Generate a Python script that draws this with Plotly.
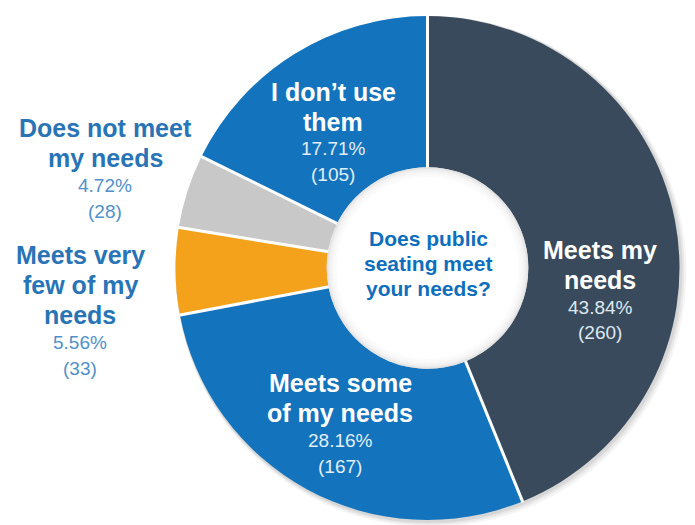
import math
import plotly.graph_objects as go

# Survey responses: "Does public seating meet your needs?"
categories = [
    "Meets my<br>needs",
    "Meets some<br>of my needs",
    "Meets very<br>few of my<br>needs",
    "Does not meet<br>my needs",
    "I don\u2019t use<br>them",
]
counts = [260, 167, 33, 28, 105]
colors = ["#384a5c", "#1373bd", "#f4a21c", "#c8c8c8", "#1373bd"]
center_title = ["Does public", "seating meet", "your needs?"]

W, H = 695, 525
total = sum(counts)
percents = [100.0 * c / total for c in counts]

fig = go.Figure()

cx, cy, r = 427.5, 268, 252
HOLE = 0.40
hole_r = HOLE * r


def circle(rad, dx=0, dy=0, **kw):
    fig.add_shape(
        type="circle", xref="paper", yref="paper",
        x0=(cx + dx - rad) / W, x1=(cx + dx + rad) / W,
        y0=1 - (cy + dy + rad) / H, y1=1 - (cy + dy - rad) / H,
        **kw,
    )


# Soft drop shadow behind the ring
for k, a in [(7, 0.04), (5, 0.05), (3, 0.07)]:
    circle(r + k / 2, dx=k / 2, dy=k / 2, layer="below",
           fillcolor=f"rgba(0,0,0,{a})", line=dict(width=0))

fig.add_trace(go.Pie(
    labels=[c.replace("<br>", " ") for c in categories],
    values=counts,
    sort=False,
    direction="clockwise",
    rotation=0,
    hole=HOLE,
    marker=dict(colors=colors, line=dict(width=0)),
    textinfo="none",
    hoverinfo="skip",
    showlegend=False,
    domain=dict(x=[(cx - r) / W, (cx + r) / W], y=[1 - (cy + r) / H, 1 - (cy - r) / H]),
))

# White separators between slices, at the cumulative share of each answer
cum = 0
for c in counts:
    th = 2 * math.pi * cum / total
    s, co = math.sin(th), math.cos(th)
    fig.add_shape(
        type="line", xref="paper", yref="paper", layer="above",
        x0=(cx + (hole_r - 2) * s) / W, y0=1 - (cy - (hole_r - 2) * co) / H,
        x1=(cx + (r + 1) * s) / W, y1=1 - (cy - (r + 1) * co) / H,
        line=dict(color="white", width=3),
    )
    cum += c

# White centre with a faint inner shadow along its rim
circle(hole_r, layer="above", fillcolor="white", line=dict(width=0))
for k, a in [(1, 0.10), (3, 0.06), (5, 0.04), (7, 0.025), (9, 0.015)]:
    circle(hole_r - k, layer="above", line=dict(color=f"rgba(0,0,0,{a})", width=2))

FONT = "Liberation Sans, Arial, sans-serif"


def add_line(text, px, py, size, color, bold):
    fig.add_annotation(
        text=f"<b>{text}</b>" if bold else text,
        x=px / W, y=1 - py / H, xref="paper", yref="paper",
        xanchor="center", yanchor="middle", showarrow=False,
        font=dict(family=FONT, size=size, color=color),
    )


# Label anchor (x, y of first line) per slice, and colours for title/numbers
label_pos = [(600, 250), (340, 383), (80, 255), (105, 128), (333, 92)]
title_colors = ["white", "white", "#2874b6", "#2874b6", "white"]
num_colors = ["#dfe8f0", "#e2eef8", "#5090c8", "#5090c8", "#e2eef8"]

for cat, cnt, pct, (px, py), tc, nc in zip(categories, counts, percents, label_pos, title_colors, num_colors):
    y = py
    for part in cat.split("<br>"):
        add_line(part, px, y, 25, tc, True)
        y += 30
    y -= 3
    add_line(f"{pct:.2f}%", px, y, 19, nc, False)
    add_line(f"({cnt})", px, y + 26, 19, nc, False)

# Question in the centre of the ring
for i, line in enumerate(center_title):
    add_line(line, 428, 238 + 25 * i, 21, "#0d6ebd", True)

fig.update_layout(
    width=W, height=H,
    margin=dict(l=0, r=0, t=0, b=0),
    paper_bgcolor="white", plot_bgcolor="white",
)

fig.write_html("out.html")
